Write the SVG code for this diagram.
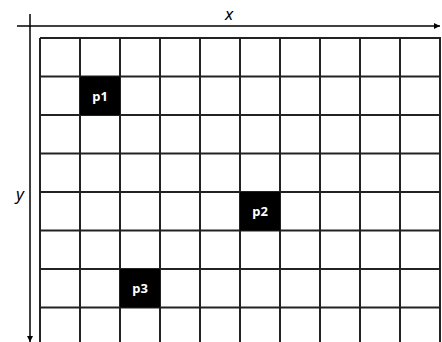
<svg xmlns="http://www.w3.org/2000/svg" width="442" height="342" viewBox="0 0 442 342">
<defs>
<style>
.g{stroke:#222;stroke-width:2;fill:none}
.ax{stroke:#000;stroke-width:1.5;fill:none}
.cell{fill:#000}
.lbl{font-family:"Noto Sans","Liberation Sans",sans-serif;font-weight:bold;font-size:13px;fill:#fff;text-anchor:middle}
.axl{font-family:"Noto Sans","Liberation Sans",sans-serif;font-style:italic;font-size:17px;fill:#000;text-anchor:middle}
</style>
<marker id="ah" viewBox="0 0 10 10" refX="10" refY="5" markerWidth="6" markerHeight="6" orient="auto" markerUnits="userSpaceOnUse"><path d="M0,0L10,5L0,10z" fill="#000"/></marker>
</defs>
<rect width="442" height="342" fill="#fff"/>
<g id="grid">
<path class="g" d="M40,38V346M80,38V346M120,38V346M160,38V346M200,38V346M240,38V346M280,38V346M320,38V346M360,38V346M400,38V346M440,38V346"/>
<path class="g" d="M40,38H441M40,76.5H441M40,115H441M40,153.5H441M40,192H441M40,230.5H441M40,269H441M40,307.5H441"/>
</g>
<g id="p1"><rect class="cell" x="80" y="76.5" width="40" height="38.5"/><text class="lbl" x="100" y="100.5">p1</text></g>
<g id="p2"><rect class="cell" x="240" y="192" width="40" height="38.5"/><text class="lbl" x="260" y="216">p2</text></g>
<g id="p3"><rect class="cell" x="120" y="269" width="40" height="38.5"/><text class="lbl" x="140" y="293">p3</text></g>
<g id="connectors">
<line class="ax" x1="17" y1="26" x2="440" y2="26" marker-end="url(#ah)"/>
<line class="ax" x1="30" y1="14" x2="30" y2="342" marker-end="url(#ah)"/>
</g>
<text class="axl" x="229" y="20">x</text>
<text class="axl" x="20" y="200">y</text>
</svg>
